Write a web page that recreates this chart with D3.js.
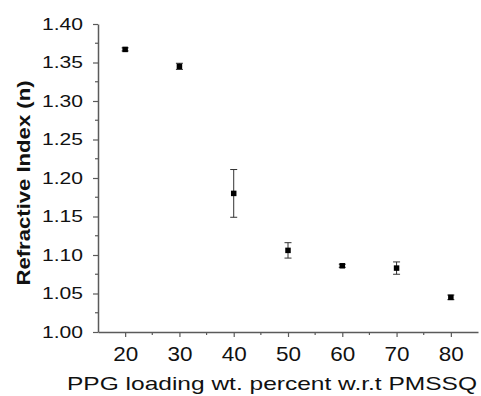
<!DOCTYPE html>
<html>
<head>
<meta charset="utf-8">
<script src="https://cdn.jsdelivr.net/npm/d3@7"></script>
<style>
  body { margin: 0; background: #fff; }
  svg { display: block; }
</style>
</head>
<body>
<svg id="main-svg" width="481" height="396"></svg>
<script>
// values
const loading = [20, 30, 40, 50, 60, 70, 80];
const refIndex = [1.367, 1.345, 1.180, 1.106, 1.086, 1.083, 1.045];
const refError = [0.002, 0.004, 0.031, 0.010, 0.002, 0.008, 0.003];
const xTicks = [20, 30, 40, 50, 60, 70, 80];
const yTicks = [1.00, 1.05, 1.10, 1.15, 1.20, 1.25, 1.30, 1.35, 1.40];

const margin = { top: 24, right: 3, bottom: 64, left: 98 };
const width = 481 - margin.left - margin.right;
const height = 396 - margin.top - margin.bottom;
const axisColor = "#5a5a5a";
const font = "Arial, 'Liberation Sans', sans-serif";

const svg = d3.select("#main-svg");
const g = svg.append("g")
    .attr("transform", `translate(${margin.left},${margin.top})`);

const x = d3.scaleLinear().domain([15, 85]).range([0, width]);
const y = d3.scaleLinear().domain([1.0, 1.4]).range([height, 0]);

// the original lettering is wider than Arial, so stretch it to the measured length
function stretch(sel, len) {
    sel.attr("textLength", len).attr("lengthAdjust", "spacingAndGlyphs");
}

// minor ticks
const xMinor = d3.range(25, 85, 10);
const yMinor = d3.range(1.025, 1.4, 0.05);

g.selectAll(".xminor").data(xMinor).enter().append("line")
    .attr("x1", d => x(d)).attr("x2", d => x(d))
    .attr("y1", height).attr("y2", height + 3)
    .attr("stroke", axisColor).attr("stroke-width", 1.2);
g.selectAll(".yminor").data(yMinor).enter().append("line")
    .attr("x1", -3).attr("x2", 0)
    .attr("y1", d => y(d)).attr("y2", d => y(d))
    .attr("stroke", axisColor).attr("stroke-width", 1.2);

// x axis
const xAxis = g.append("g")
    .attr("transform", `translate(0,${height})`)
    .call(d3.axisBottom(x).tickValues(xTicks).tickSize(5).tickSizeOuter(0).tickPadding(9));

// y axis
const yAxis = g.append("g")
    .call(d3.axisLeft(y).tickValues(yTicks).tickFormat(d3.format(".2f")).tickSize(5).tickSizeOuter(0).tickPadding(10));

[xAxis, yAxis].forEach(a => {
    a.select(".domain").attr("stroke", axisColor).attr("stroke-width", 1.5);
    a.selectAll(".tick line").attr("stroke", axisColor).attr("stroke-width", 1.2);
    a.selectAll(".tick text")
        .attr("fill", "#111")
        .attr("font-family", font);
});
xAxis.selectAll(".tick text").attr("font-size", "21px").call(stretch, 25);
yAxis.selectAll(".tick text").attr("font-size", "17px").call(stretch, 41);

// error bars
const pts = loading.map((d, i) => ({ x: d, y: refIndex[i], e: refError[i] }));

g.selectAll(".err").data(pts).enter().append("line")
    .attr("x1", d => x(d.x)).attr("x2", d => x(d.x))
    .attr("y1", d => y(d.y + d.e)).attr("y2", d => y(d.y - d.e))
    .attr("stroke", "#333").attr("stroke-width", 1);
["top", "bottom"].forEach(side => {
    g.selectAll(".cap-" + side).data(pts).enter().append("line")
        .attr("x1", d => x(d.x) - 3.5).attr("x2", d => x(d.x) + 3.5)
        .attr("y1", d => y(side === "top" ? d.y + d.e : d.y - d.e))
        .attr("y2", d => y(side === "top" ? d.y + d.e : d.y - d.e))
        .attr("stroke", "#333").attr("stroke-width", 1);
});

// markers
g.selectAll(".pt").data(pts).enter().append("rect")
    .attr("x", d => x(d.x) - 2.75)
    .attr("y", d => y(d.y) - 2.75)
    .attr("width", 5.5).attr("height", 5.5)
    .attr("fill", "#000");

// axis titles
svg.append("text")
    .attr("transform", "translate(30,183) rotate(-90)")
    .attr("text-anchor", "middle")
    .attr("font-size", "17.5px")
    .attr("font-weight", "bold")
    .attr("font-family", font)
    .attr("fill", "#111")
    .text("Refractive Index (n)")
    .call(stretch, 205);

svg.append("text")
    .attr("x", 272)
    .attr("y", 390)
    .attr("text-anchor", "middle")
    .attr("font-size", "18.5px")
    .attr("font-family", font)
    .attr("fill", "#111")
    .text("PPG loading wt. percent w.r.t PMSSQ")
    .call(stretch, 410);
</script>
</body>
</html>
